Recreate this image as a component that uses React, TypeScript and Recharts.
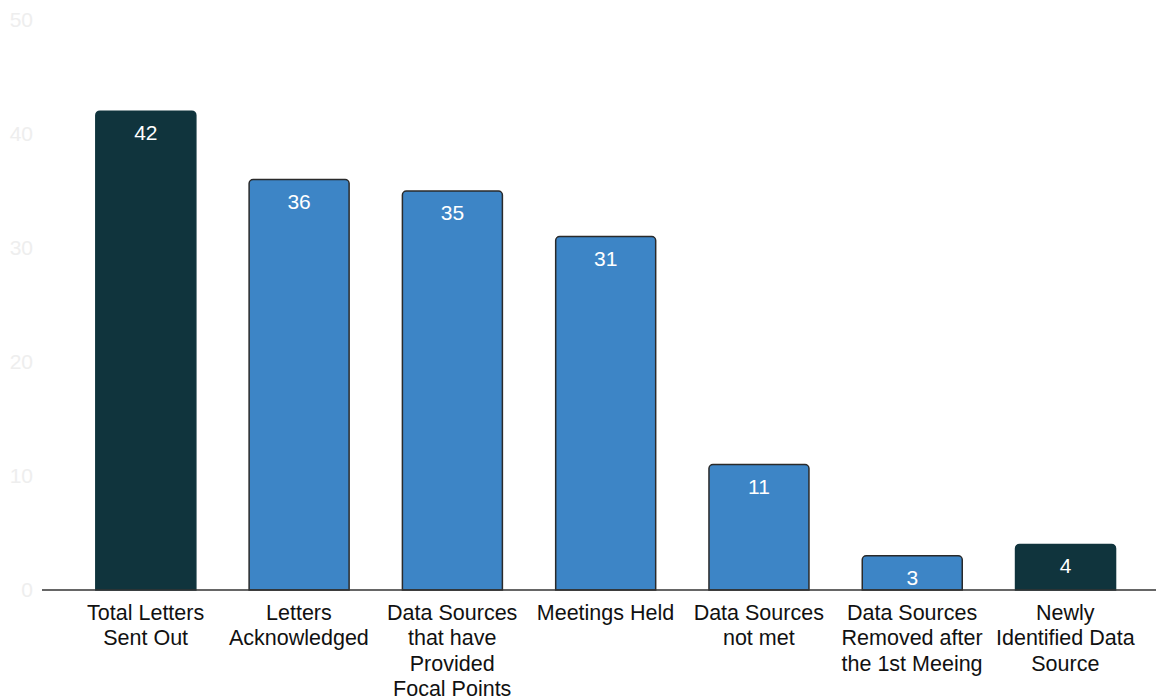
import React from "react";
import { BarChart, Bar, XAxis, YAxis, Cell, LabelList } from "recharts";

const categories = [
  "Total Letters\nSent Out",
  "Letters\nAcknowledged",
  "Data Sources\nthat have\nProvided\nFocal Points",
  "Meetings Held",
  "Data Sources\nnot met",
  "Data Sources\nRemoved after\nthe 1st Meeing",
  "Newly\nIdentified Data\nSource",
];
const values = [42, 36, 35, 31, 11, 3, 4];
const highlighted = [true, false, false, false, false, false, true];
const yTicks = [0, 10, 20, 30, 40, 50];

const data = categories.map((c, i) => ({ name: c, value: values[i], hl: highlighted[i] }));

const FONT = "'Liberation Sans', Arial, sans-serif";

const XTick = (props: any) => {
  const { x, y, payload } = props;
  const lines = String(payload.value).split("\n");
  return (
    <text x={x} y={y} textAnchor="middle" fontFamily={FONT} fontSize={21.5} fill="#111">
      {lines.map((l, i) => (
        <tspan key={i} x={x} dy={i === 0 ? 22 : 25.3}>
          {l}
        </tspan>
      ))}
    </text>
  );
};

export default function App() {
  return (
    <div style={{ position: "absolute", left: 0, top: 0, background: "#fff" }}>
      <BarChart
        width={1156}
        height={698}
        data={data}
        margin={{ top: 20, right: 0, bottom: 0, left: 0 }}
        barCategoryGap="17.5%"
      >
        <YAxis
          domain={[0, 50]}
          ticks={yTicks}
          axisLine={false}
          tickLine={false}
          width={42}
          tick={{ fill: "#eeeeee", fontSize: 21, fontFamily: FONT }}
          tickMargin={3}
        />
        <XAxis
          dataKey="name"
          interval={0}
          height={108}
          tickLine={false}
          axisLine={{ stroke: "#333", strokeWidth: 1.5 }}
          padding={{ left: 27, right: 14 }}
          tick={<XTick />}
        />
        <Bar dataKey="value" isAnimationActive={false} radius={[4, 4, 0, 0]}>
          {data.map((d, i) => (
            <Cell
              key={i}
              fill={d.hl ? "#10343d" : "#3d85c6"}
              stroke={d.hl ? "#10343d" : "#2a2a2a"}
              strokeWidth={1.5}
            />
          ))}
          <LabelList
            dataKey="value"
            position="insideTop"
            offset={14}
            fill="#ffffff"
            fontSize={21}
            fontFamily={FONT}
          />
        </Bar>
      </BarChart>
    </div>
  );
}
